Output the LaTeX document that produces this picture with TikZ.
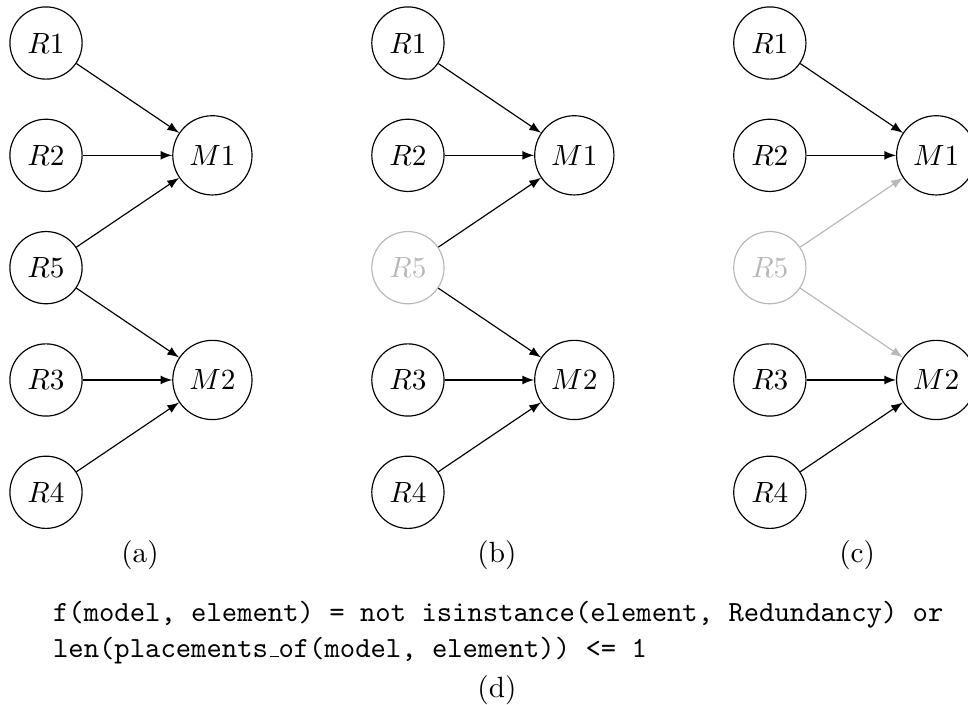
\documentclass[tikz,border=0pt]{standalone}
\usepackage{xcolor}
\usepackage{tikz}
\usetikzlibrary{arrows.meta, positioning}
\colorlet{faded}{black!28}
\newcommand{\ttunder}{\kern.06em\vbox{\hrule width.3em}}

\begin{document}
\begin{tikzpicture}[
    >=latex,
    res/.style={circle, draw=#1, text=#1, minimum size=24.7pt, inner sep=1pt},
    res/.default=black,
    mod/.style={circle, draw, minimum size=27.1pt, inner sep=1pt},
    link/.style={->, color=#1},
    link/.default=black,
    label/.style={inner sep=0pt},
    code/.style={anchor=base west, inner sep=0pt, font=\ttfamily},
]
    \useasboundingbox (-0.553,0.517) rectangle (11.082,-7.945);

    % Panel (a)
    \node[res] (aR1) at (0,0) {$R1$};
    \node[res] (aR2) at (0,-1.35) {$R2$};
    \node[res] (aR5) at (0,-2.7) {$R5$};
    \node[res] (aR3) at (0,-4.05) {$R3$};
    \node[res] (aR4) at (0,-5.4) {$R4$};
    \node[mod] (aM1) at (2,-1.35) {$M1$};
    \node[mod] (aM2) at (2,-4.05) {$M2$};
    \node[label] (capa) at (1.13,-6.155) {(a)};

    \draw[link] (aR1) -- (aM1);
    \draw[link] (aR2) -- (aM1);
    \draw[link] (aR5) -- (aM1);
    \draw[link] (aR5) -- (aM2);
    \draw[link] (aR3) -- (aM2);
    \draw[link] (aR4) -- (aM2);

    % Panel (b)
    \node[res] (bR1) at (4.35,0) {$R1$};
    \node[res] (bR2) at (4.35,-1.35) {$R2$};
    \node[res=faded] (bR5) at (4.35,-2.7) {$R5$};
    \node[res] (bR3) at (4.35,-4.05) {$R3$};
    \node[res] (bR4) at (4.35,-5.4) {$R4$};
    \node[mod] (bM1) at (6.35,-1.35) {$M1$};
    \node[mod] (bM2) at (6.35,-4.05) {$M2$};
    \node[label] (capb) at (5.42,-6.155) {(b)};

    \draw[link] (bR1) -- (bM1);
    \draw[link] (bR2) -- (bM1);
    \draw[link] (bR5) -- (bM1);
    \draw[link] (bR5) -- (bM2);
    \draw[link] (bR3) -- (bM2);
    \draw[link] (bR4) -- (bM2);

    % Panel (c)
    \node[res] (cR1) at (8.7,0) {$R1$};
    \node[res] (cR2) at (8.7,-1.35) {$R2$};
    \node[res=faded] (cR5) at (8.7,-2.7) {$R5$};
    \node[res] (cR3) at (8.7,-4.05) {$R3$};
    \node[res] (cR4) at (8.7,-5.4) {$R4$};
    \node[mod] (cM1) at (10.7,-1.35) {$M1$};
    \node[mod] (cM2) at (10.7,-4.05) {$M2$};
    \node[label] (capc) at (9.75,-6.155) {(c)};

    \draw[link] (cR1) -- (cM1);
    \draw[link] (cR2) -- (cM1);
    \draw[link=faded] (cR5) -- (cM1);
    \draw[link=faded] (cR5) -- (cM2);
    \draw[link] (cR3) -- (cM2);
    \draw[link] (cR4) -- (cM2);

    % Filter (d)
    \node[code] (line1) at (0.078,-6.95) {f(model, element) = not isinstance(element, Redundancy) or};
    \node[code] (line2) at (0.078,-7.38) {len(placements\ttunder of(model, element)) <= 1};
    \node[label, anchor=base] (capd) at (5.42,-7.87) {(d)};

\end{tikzpicture}
\end{document}
